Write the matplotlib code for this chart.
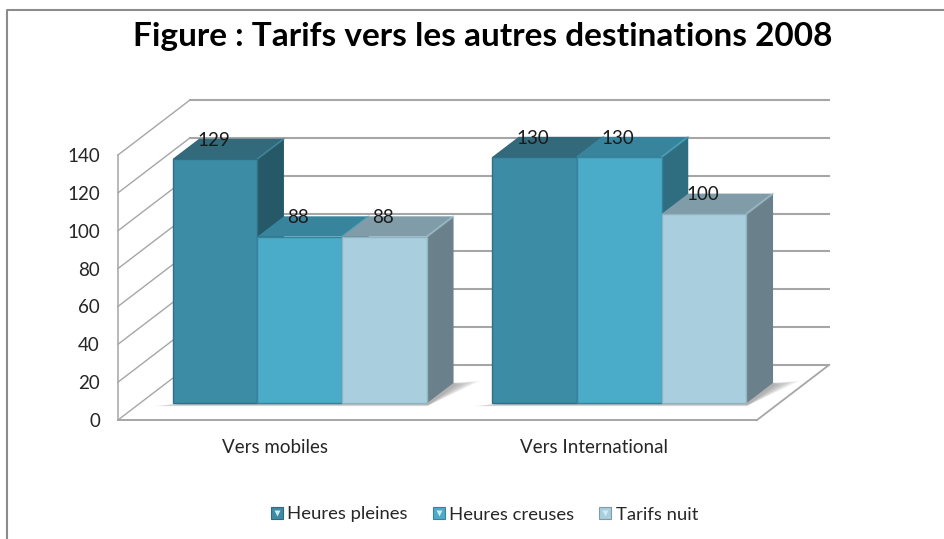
import matplotlib
matplotlib.use("Agg")
import matplotlib.pyplot as plt
from matplotlib.lines import Line2D
from matplotlib.patches import Polygon
from matplotlib.legend_handler import HandlerTuple
from matplotlib.transforms import Affine2D

categories = ["Vers mobiles", "Vers International"]
series_names = ["Heures pleines", "Heures creuses", "Tarifs nuit"]
heures_pleines = [129, 130]
heures_creuses = [88, 130]
tarifs_nuit = [88, 100]
yticks = [0, 20, 40, 60, 80, 100, 120, 140]

W, H = 945, 539
plt.rcParams["font.family"] = ["Lato", "DejaVu Sans"]
fig = plt.figure(figsize=(W / 100, H / 100), dpi=100, facecolor="white")

L, R, B, T = 118, 757, 420, 155
ax = fig.add_axes([L / W, (H - B) / H, (R - L) / W, (B - T) / H])
ax.set_xlim(0, 2)
ax.set_ylim(0, 140)
ax.patch.set_visible(False)
for s in ax.spines.values():
    s.set_visible(False)

PX_X = (R - L) / 2          # pixels per category unit
PX_Y = (B - T) / 140        # pixels per value unit
DEPTH_X, DEPTH_Y = 72 / PX_X, 55 / PX_Y


def proj(x, v, d):
    return (x + d * DEPTH_X, v + d * DEPTH_Y)


GRID = "#a6a6a6"
for v in yticks:
    a, b, c = proj(0, v, 0), proj(0, v, 1), proj(2, v, 1)
    ax.plot([a[0], b[0]], [a[1], b[1]], color=GRID, lw=1.0, clip_on=False, zorder=1)
    ax.plot([b[0], c[0]], [b[1], c[1]], color=GRID, lw=1.5, clip_on=False, zorder=1)
ax.plot([0, 0], [0, 140], color=GRID, lw=1.1, clip_on=False, zorder=1)
ax.plot([0, 2], [0, 0], color=GRID, lw=1.4, clip_on=False, zorder=1)
fr, br = proj(2, 0, 0), proj(2, 0, 1)
ax.plot([fr[0], br[0]], [fr[1], br[1]], color=GRID, lw=1.3, clip_on=False, zorder=1)

# bar geometry
BAR_W = 84.8 / PX_X
D0 = 0.305
BD = 0.37
colors_front = ["#3d8ca6", "#4aacc9", "#a9cede"]
colors_top = ["#32697b", "#38849c", "#7f9ca8"]
colors_side = ["#265968", "#2f6e80", "#6a808a"]
edges = ["#2f7088", "#37839b", "#8fb4c4"]
values = [heures_pleines, heures_creuses, tarifs_nuit]
z = 5

# floor shadow behind each group
for gi in range(len(categories)):
    x_left = gi + 0.5 - 1.5 * BAR_W
    x_right = gi + 0.5 + 1.5 * BAR_W
    for k in range(8):
        spread = (8 - k) / 8
        low = D0 - 0.055 * spread ** 0.5
        p0 = proj(x_left - 16 / PX_X * spread, 0, low)
        p1 = proj(x_right + 4 / PX_X, 0, low)
        p2 = proj(x_right + 22 / PX_X * spread + 2 / PX_X, 0, D0 + BD * (0.85 + 0.25 * spread))
        p3 = proj(x_right, 0, D0 + BD)
        ax.add_patch(Polygon([p0, p1, p2, p3], closed=True, fc="#555555", ec="none",
                             alpha=0.07, clip_on=False, zorder=2))

for gi in range(len(categories)):
    x_left = gi + 0.5 - 1.5 * BAR_W
    for si in range(len(values)):
        v = values[si][gi]
        x0 = x_left + si * BAR_W
        x1 = x0 + BAR_W
        side = [proj(x1, 0, D0), proj(x1, v, D0), proj(x1, v, D0 + BD), proj(x1, 0, D0 + BD)]
        top = [proj(x0, v, D0), proj(x1, v, D0), proj(x1, v, D0 + BD), proj(x0, v, D0 + BD)]
        front = [proj(x0, 0, D0), proj(x1, 0, D0), proj(x1, v, D0), proj(x0, v, D0)]
        ax.add_patch(Polygon(side, closed=True, fc=colors_side[si], ec="none", clip_on=False, zorder=z))
        ax.add_patch(Polygon(top, closed=True, fc=colors_top[si], ec="none", clip_on=False, zorder=z))
        # lighter bevel on the top's right edge
        bx = [proj(x1, v, D0), proj(x1, v, D0 + BD)]
        ax.plot([bx[0][0], bx[1][0]], [bx[0][1], bx[1][1]], color=colors_front[si], lw=1.6,
                alpha=0.45, clip_on=False, zorder=z, solid_capstyle="round")
        ax.add_patch(Polygon(front, closed=True, fc=colors_front[si], ec=edges[si], lw=1.0,
                             clip_on=False, zorder=z))
        z += 1
        lx, ly = proj(x0 + BAR_W / 2, v, D0)
        ax.annotate(str(v), (lx, ly), xytext=(-1.5, 19), textcoords="offset pixels",
                    ha="center", va="center", fontsize=13.5, color="#1a1a1a",
                    annotation_clip=False, zorder=60)

ax.set_yticks(yticks)
ax.set_xticks([0.5, 1.5])
ax.set_xticklabels(categories)
ax.tick_params(axis="both", length=0, labelsize=13.5, labelcolor="#262626")
ax.tick_params(axis="y", pad=13)
ax.tick_params(axis="x", pad=14)
for lab in ax.get_xticklabels():
    lab.set_transform(lab.get_transform() + Affine2D().translate(-3, 0))

fig.text(483 / W, (H - 36) / H, "Figure : Tarifs vers les autres destinations 2008",
         ha="center", va="center", fontsize=24, fontweight="bold", color="black")

handles = []
for si in range(len(values)):
    sq = Line2D([], [], ls="none", marker="s", ms=9, mfc=colors_front[si], mec=colors_top[si], mew=0.8)
    tri = Line2D([], [], ls="none", marker="v", ms=5, mfc="#cfeaf2", mec="none")
    handles.append((sq, tri))
leg = fig.legend(handles, series_names, handler_map={tuple: HandlerTuple(ndivide=1, pad=0)},
                 loc="center", bbox_to_anchor=(484 / W, (H - 514.5) / H), ncol=3, frameon=False,
                 fontsize=13.3, labelcolor="#262626", handlelength=0.75, handletextpad=0.2,
                 columnspacing=1.3, borderpad=0)

fig.add_artist(Line2D([7 / W, 7 / W, 1], [0, (H - 10) / H, (H - 10) / H], color="#8c8c8c", lw=1.5,
                      transform=fig.transFigure))

fig.savefig("out.png", dpi=100, facecolor="white")
